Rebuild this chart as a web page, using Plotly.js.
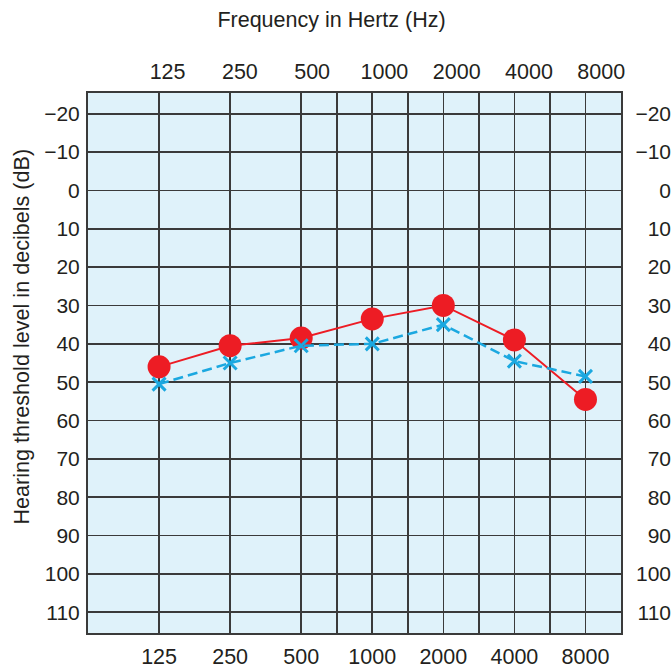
<!DOCTYPE html>
<html>
<head>
<meta charset="utf-8">
<script src="https://cdn.plot.ly/plotly-3.0.1.min.js"></script>
<style>html,body{margin:0;padding:0;background:#fff;}#chart{width:671px;height:671px;}</style>
</head>
<body>
<div id="chart"></div>
<script>
// Frequencies (Hz) on octave lines, and half-octave grid frequencies
const octaveFreqs = [125, 250, 500, 1000, 2000, 4000, 8000];
const octaveLabels = ['125', '250', '500', '1000', '2000', '4000', '8000'];
const halfOctaveFreqs = [750, 1500, 3000, 6000];
// Hearing threshold (dB) tick values
const dbTicks = [-20, -10, 0, 10, 20, 30, 40, 50, 60, 70, 80, 90, 100, 110];
// Series: red circles (solid) and blue crosses (dashed)
const redThresholds = [46, 40.5, 38.5, 33.5, 30, 39, 54.5];
const blueThresholds = [50.5, 45, 40.5, 40, 35, 44.5, 48.5];

// half-octave lines sit midway (on the log scale) between octave lines
const halfPos = halfOctaveFreqs.map(f => octaveFreqs.filter(o => o < f).pop() * Math.SQRT2);
const gridVals = octaveFreqs.concat(halfPos);
const gridText = octaveLabels.concat(halfPos.map(() => ''));

const FONT = 'Liberation Sans, Arial, Helvetica, sans-serif';
const TXT = '#231f20';
const GRID = '#3a3a3a';
const L2 = Math.log10(2);
const f0 = octaveFreqs[0];
const xRange = [Math.log10(f0) - L2, Math.log10(f0) + 6.5 * L2];
// top scale of the printed chart is set slightly offset/stretched relative to the grid
const xRangeTop = [Math.log10(f0) - 1.101 * L2, Math.log10(f0) + (7.374 - 1.101) * L2];
const yRange = [115.4, -25.4];
const xDom = [0, (621 - 88) / (671 - 88)];

const traces = [
  {
    x: octaveFreqs, y: redThresholds, type: 'scatter', mode: 'lines+markers',
    line: {color: '#ed1c24', width: 2},
    marker: {color: '#ed1c24', size: 23, symbol: 'circle'},
    hoverinfo: 'skip', showlegend: false
  },
  {
    x: octaveFreqs, y: blueThresholds, type: 'scatter', mode: 'lines+markers',
    line: {color: '#1ba8e0', width: 2.5, dash: '10px,5px'},
    marker: {symbol: 'x-thin', size: 13, color: '#1ba8e0', line: {color: '#1ba8e0', width: 3}},
    hoverinfo: 'skip', showlegend: false
  },
  {x: [], y: [], xaxis: 'x2', yaxis: 'y2', type: 'scatter', mode: 'markers', hoverinfo: 'skip', showlegend: false}
];

const yTickFont = {family: FONT, size: 21, color: TXT};
const xTickFont = {family: FONT, size: 21.5, color: TXT};

const layout = {
  width: 671, height: 671,
  margin: {l: 88, r: 0, t: 93, b: 38, pad: 0},
  paper_bgcolor: '#ffffff',
  plot_bgcolor: '#dff2fa',
  font: {family: FONT, color: TXT},
  showlegend: false,
  title: {
    text: 'Frequency in Hertz (Hz)', font: {family: FONT, size: 21.5, color: TXT},
    xref: 'container', yref: 'container', x: 331.5 / 671, xanchor: 'center', y: 1 - 19 / 671, yanchor: 'middle'
  },
  annotations: [{
    text: 'Hearing threshold level in decibels (dB)', textangle: -90,
    xref: 'paper', yref: 'paper', xanchor: 'center', yanchor: 'middle',
    x: (22 - 88) / (671 - 88), y: (633.3 - 336.5) / (633.3 - 92.7),
    showarrow: false, font: {family: FONT, size: 21.6, color: TXT}
  }],
  xaxis: {
    type: 'log', range: xRange, domain: xDom,
    tickmode: 'array', tickvals: gridVals, ticktext: gridText,
    ticks: 'outside', ticklen: 3, tickcolor: 'rgba(0,0,0,0)',
    showgrid: true, gridcolor: GRID, gridwidth: 1.6,
    showline: true, linecolor: GRID, linewidth: 2, mirror: true,
    zeroline: false, tickfont: xTickFont, fixedrange: true
  },
  xaxis2: {
    type: 'log', range: xRangeTop, domain: xDom, overlaying: 'x', side: 'top', anchor: 'y',
    tickmode: 'array', tickvals: octaveFreqs, ticktext: octaveLabels,
    ticks: 'outside', ticklen: 4, tickcolor: 'rgba(0,0,0,0)',
    showgrid: false, showline: false, zeroline: false, tickfont: xTickFont
  },
  yaxis: {
    range: yRange, tickmode: 'array', tickvals: dbTicks,
    ticks: 'outside', ticklen: 2, tickcolor: 'rgba(0,0,0,0)',
    showgrid: true, gridcolor: GRID, gridwidth: 1.6,
    showline: true, linecolor: GRID, linewidth: 2, mirror: true,
    zeroline: false, tickfont: yTickFont
  },
  yaxis2: {
    range: yRange, tickmode: 'array', tickvals: dbTicks,
    overlaying: 'y', anchor: 'free', position: 1, side: 'left',
    ticks: '', ticklen: 0,
    showgrid: false, showline: false, zeroline: false, tickfont: yTickFont
  }
};

Plotly.newPlot('chart', traces, layout, {staticPlot: true, displayModeBar: false});
</script>
</body>
</html>
